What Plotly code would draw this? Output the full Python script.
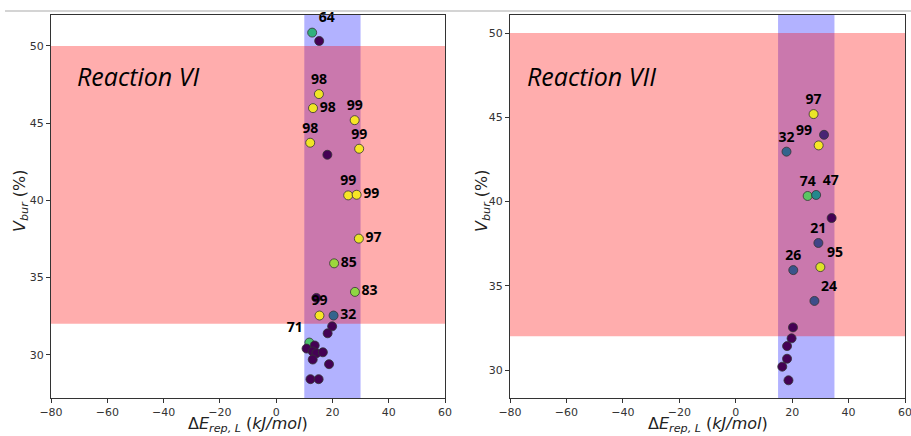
import plotly.graph_objects as go

# ---- Reaction VI (left panel) ----
vi_x = [12.8, 15.3, 15.2, 13.1, 27.9, 12.1, 29.5, 18.2, 25.6, 28.6, 29.4, 20.6, 28.0,
        14.3, 15.4, 20.4, 19.9, 18.3, 11.8, 10.8, 13.7, 13.0, 14.3, 16.6, 13.0, 18.8, 12.2, 15.1]
vi_y = [50.86, 50.32, 46.88, 45.97, 45.19, 43.73, 43.34, 42.95, 40.32, 40.36, 37.52, 35.92, 34.07,
        33.68, 32.54, 32.54, 31.84, 31.39, 30.79, 30.40, 30.60, 30.21, 30.10, 30.16, 29.69, 29.39, 28.42, 28.42]
vi_val = [64, 0, 98, 98, 99, 98, 99, 0, 99, 99, 97, 85, 83,
          0, 99, 32, 0, 0, 71, 0, 0, 0, 0, 0, 0, 0, 0, 0]
vi_lbl = ["64", "", "98", "98", "99", "98", "99", "", "99", "99", "97", "85", "83",
          "", "99", "32", "", "", "71", "", "", "", "", "", "", "", "", ""]
vi_pos = ["top right", "top center", "top center", "middle right", "top center", "top center",
          "top center", "top center", "top center", "middle right", "middle right", "middle right",
          "middle right", "top center", "top center", "middle right", "top center", "top center",
          "top left", "top center", "top center", "top center", "top center", "top center",
          "top center", "top center", "top center", "top center"]

# ---- Reaction VII (right panel) ----
vii_x = [27.6, 31.3, 29.4, 18.0, 25.5, 28.5, 34.0, 29.3, 20.4, 30.0, 27.9,
         20.3, 19.8, 18.2, 18.2, 16.5, 18.7]
vii_y = [45.19, 43.96, 43.33, 42.96, 40.33, 40.39, 39.02, 37.54, 35.93, 36.11, 34.10,
         32.53, 31.88, 31.42, 30.67, 30.20, 29.39]
vii_val = [97, 10, 99, 32, 74, 47, 0, 21, 26, 95, 24, 0, 0, 0, 0, 0, 0]
vii_lbl = ["97", "", "99", "32", "74", "47", "", "21", "26", "95", "24", "", "", "", "", "", ""]
vii_pos = ["top center", "top center", "top left", "top center", "top center", "top right",
           "top center", "top center", "top center", "top right", "top right",
           "top center", "top center", "top center", "top center", "top center", "top center"]

x_ticks = [-80, -60, -40, -20, 0, 20, 40, 60]
y_ticks = [30, 35, 40, 45, 50]
panel_titles = ["Reaction VI", "Reaction VII"]
blue_bands = [(10, 30), (15, 35)]
red_band = (32, 50)

W, H = 911, 436

fig = go.Figure()

def add_panel(xs, ys, vals, lbls, pos, xa, ya):
    fig.add_trace(go.Scatter(
        x=xs, y=ys, mode="markers+text", text=lbls, textposition=pos,
        textfont=dict(family="Open Sans", size=14, color="black", weight="bold"),
        marker=dict(size=9, color=vals, colorscale="Viridis", cmin=0, cmax=100,
                    line=dict(width=0.8, color="#333333")),
        xaxis=xa, yaxis=ya, showlegend=False, cliponaxis=False))

add_panel(vi_x, vi_y, vi_val, vi_lbl, vi_pos, "x", "y")
add_panel(vii_x, vii_y, vii_val, vii_lbl, vii_pos, "x2", "y2")

ydom = [1 - 398 / H, 1 - 15 / H]
axis_common = dict(showline=True, linecolor="#333333", linewidth=1.2, mirror=True,
                   ticks="outside", ticklen=4, tickcolor="#333333", showgrid=False,
                   zeroline=False, automargin=False, ticklabeloverflow="allow",
                   tickfont=dict(family="DejaVu Sans", size=11, color="#333333"))
fig.update_layout(
    width=W, height=H, margin=dict(l=0, r=0, t=0, b=0, pad=0), autosize=False,
    paper_bgcolor="white", plot_bgcolor="white",
    xaxis=dict(domain=[51 / W, 445 / W], range=[-80, 60], tickvals=x_ticks, anchor="y", **axis_common),
    yaxis=dict(domain=ydom, range=[27.2, 52.0], tickvals=y_ticks, anchor="x", **axis_common),
    xaxis2=dict(domain=[510 / W, 905 / W], range=[-80, 60], tickvals=x_ticks, anchor="y2", **axis_common),
    yaxis2=dict(domain=ydom, range=[28.34, 51.07], tickvals=y_ticks, anchor="x2", **axis_common),
)

shapes = []
for (b0, b1), xr, yr in zip(blue_bands, ["x", "x2"], ["y", "y2"]):
    shapes.append(dict(type="rect", xref=xr, yref=yr + " domain", x0=b0, x1=b1, y0=0, y1=1,
                       fillcolor="rgba(0,0,255,0.3)", line=dict(width=0), layer="below"))
for xr, yr in zip(["x", "x2"], ["y", "y2"]):
    shapes.append(dict(type="rect", xref=xr + " domain", yref=yr, x0=0, x1=1, y0=red_band[0], y1=red_band[1],
                       fillcolor="rgba(255,0,0,0.32)", line=dict(width=0), layer="below"))
shapes.append(dict(type="line", xref="paper", yref="paper", x0=5 / W, x1=1, y0=1 - 11 / H, y1=1 - 11 / H,
                   line=dict(color="#d4d4d4", width=2)))
fig.update_layout(shapes=shapes)

ann = []
ann.append(dict(xref="x", yref="y", x=-71.3, y=48.06, text="<i>" + panel_titles[0] + "</i>",
                showarrow=False, xanchor="left", yanchor="middle",
                font=dict(family="Open Sans", size=25, color="black")))
ann.append(dict(xref="x2", yref="y2", x=-74.7, y=47.45, text="<i>" + panel_titles[1] + "</i>",
                showarrow=False, xanchor="left", yanchor="middle",
                font=dict(family="Open Sans", size=25, color="black")))
xt = "Δ<i>E</i><sub><i>rep, L</i></sub> (<i>kJ/mol</i>)"
yt = "<i>V</i><sub><i>bur</i></sub> (%)"
tfont = dict(family="DejaVu Sans", size=16, color="#222222")
for cx in [248 / W, 708 / W]:
    ann.append(dict(xref="paper", yref="paper", x=cx, y=1 - 424 / H, text=xt, showarrow=False,
                    xanchor="center", yanchor="middle", font=tfont))
for cx in [20 / W, 482 / W]:
    ann.append(dict(xref="paper", yref="paper", x=cx, y=1 - 201 / H, text=yt, showarrow=False,
                    textangle=-90, xanchor="center", yanchor="middle", font=tfont))
fig.update_layout(annotations=ann)

fig.write_html("out.html", config={"displayModeBar": False},
               post_script="document.documentElement.style.overflow='hidden';"
                           "document.body.style.margin='0px';document.body.style.overflow='hidden';")
